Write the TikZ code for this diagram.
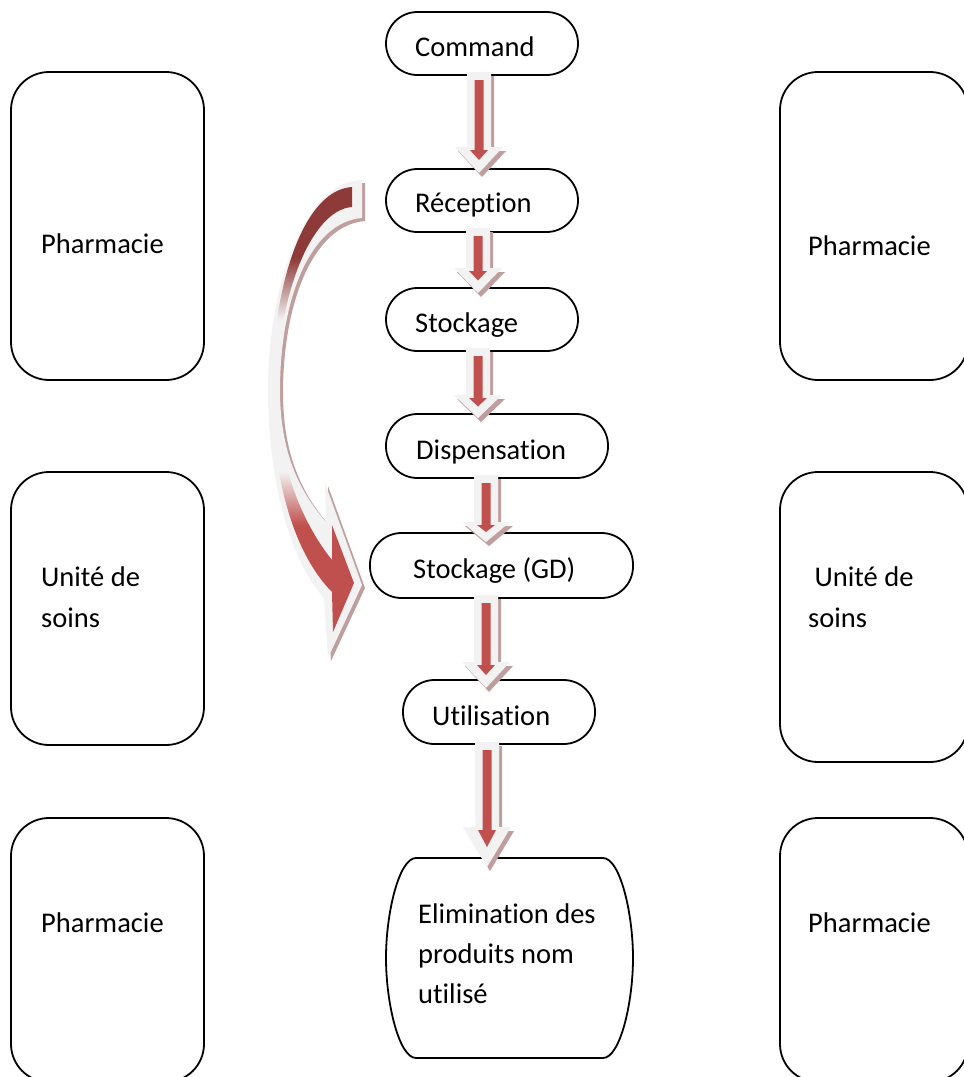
\documentclass[tikz,border=0pt]{standalone}
\usepackage{fontspec}
\setmainfont{Carlito}[Ligatures={NoCommon,NoRequired,NoContextual}]
\definecolor{arrgray}{HTML}{F2F2F2}
\definecolor{arrred}{HTML}{C0504D}
\definecolor{arrdark}{HTML}{8E3A39}
\definecolor{arrshadow}{HTML}{BF9E9E}
\pgfdeclareverticalshading{curvshade}{100bp}{color(0bp)=(arrred); color(37bp)=(arrred); color(43bp)=(arrgray); color(60bp)=(arrgray); color(67bp)=(arrdark); color(100bp)=(arrdark)}
\newcommand\bArrow[4]{%
  \fill[arrshadow,shift={(3,4)}] ({#1-12},{#2}) -- ({#1+12},{#2}) -- ({#1+12},{#3}) -- ({#1+24},{#3}) -- ({#1},{#4}) -- ({#1-24},{#3}) -- ({#1-12},{#3}) -- cycle;
  \fill[arrgray] ({#1-12},{#2}) -- ({#1+12},{#2}) -- ({#1+12},{#3}) -- ({#1+24},{#3}) -- ({#1},{#4}) -- ({#1-24},{#3}) -- ({#1-12},{#3}) -- cycle;
  \fill[arrred] ({#1-4.5},{#2+8}) -- ({#1+4.5},{#2+8}) -- ({#1+4.5},{#3+3}) -- ({#1+9},{#3+3}) -- ({#1},{(#3+#4)/2}) -- ({#1-9},{#3+3}) -- ({#1-4.5},{#3+3}) -- cycle;
}
\tikzset{
  box/.style={draw, line width=1.8pt, rounded corners=38pt, inner sep=0pt},
  pill/.style={draw, line width=1.8pt, rounded corners=31.5pt, inner sep=0pt, minimum height=63pt},
  txt/.style={anchor=base west, inner sep=0pt, font=\fontsize{28.5}{35}\selectfont},
}
\begin{document}
\begin{tikzpicture}[x=1pt,y=-1pt]
\useasboundingbox (0,0) rectangle (964,1077);
\clip (0,0) rectangle (964,1077);
\fill[white] (0,0) rectangle (964,1077);
% side boxes
\node[box, minimum width=193pt, minimum height=308pt] (L1) at (107.5,226) {};
\node[box, minimum width=193pt, minimum height=273pt] (L2) at (107.5,608.5) {};
\node[box, minimum width=193pt, minimum height=264pt] (L3) at (107.5,950) {};
\node[box, minimum width=188pt, minimum height=308pt] (R1) at (874,226) {};
\node[box, minimum width=188pt, minimum height=290pt] (R2) at (874,617) {};
\node[box, minimum width=188pt, minimum height=264pt] (R3) at (874,950) {};
\node[txt] (tL1) at (41,253) {Pharmacie};
\node[txt] (tL2a) at (41,586) {Unité de};
\node[txt] (tL2b) at (41,627) {soins};
\node[txt] (tL3) at (41,932) {Pharmacie};
\node[txt] (tR1) at (808,255) {Pharmacie};
\node[txt] (tR2a) at (808,586) {\ Unité de};
\node[txt] (tR2b) at (808,627) {soins};
\node[txt] (tR3) at (808,932) {Pharmacie};
% central pills
\node[pill, minimum width=192pt] (cmd) at (482,43.5) {};
\node[pill, minimum width=192pt] (rec) at (482,200.5) {};
\node[pill, minimum width=192pt] (sto) at (482,319.5) {};
\node[pill, minimum width=222pt, minimum height=64pt] (dis) at (497,446) {};
\node[pill, minimum width=263pt, minimum height=65pt] (gd) at (501.5,565.5) {};
\node[pill, minimum width=192pt, minimum height=64pt] (uti) at (499,712) {};
\coordinate (eli) at (509.5,958);
\draw[line width=1.8pt] (416,858) -- (603,858) .. controls (620,858) and (633,913) .. (633,958) .. controls (633,1003) and (620,1058) .. (603,1058) -- (416,1058) .. controls (399,1058) and (386,1003) .. (386,958) .. controls (386,913) and (399,858) .. (416,858) -- cycle;
\node[txt] (tcmd) at (415,56) {Command};
\node[txt] (trec) at (415,212) {Réception};
\node[txt] (tsto) at (415,332) {Stockage};
\node[txt] (tdis) at (416,459) {Dispensation};
\node[txt] (tgd) at (413,578) {Stockage (GD)};
\node[txt] (tuti) at (432,725) {Utilisation};
\node[txt] (teli1) at (418,923) {Elimination des};
\node[txt] (teli2) at (418,963) {produits nom};
\node[txt] (teli3) at (418,1003) {utilisé};
% straight block arrows
\bArrow{479}{72}{147}{173}
\bArrow{478}{228}{268}{293}
\bArrow{478}{348}{395}{418}
\bArrow{486}{475}{522}{542}
\bArrow{486}{595}{662}{688}
\bArrow{487}{742}{827}{867}
% curved arrow
\fill[arrshadow, shift={(3,3)}] (362,180) .. controls (305,181) and (268,285) .. (268,390) .. controls (268,480) and (290,560) .. (324,598) -- (328,658) -- (362,585) -- (325,483) -- (326,522) .. controls (298,490) and (280,450) .. (280,390) .. controls (280,300) and (310,222) .. (362,218) -- cycle;
\fill[arrgray] (362,180) .. controls (305,181) and (268,285) .. (268,390) .. controls (268,480) and (290,560) .. (324,598) -- (328,658) -- (362,585) -- (325,483) -- (326,522) .. controls (298,490) and (280,450) .. (280,390) .. controls (280,300) and (310,222) .. (362,218) -- cycle;
\shade[shading=curvshade] (352,187) .. controls (302,190) and (272,290) .. (272,390) .. controls (272,480) and (295,555) .. (332,592) -- (333,632) -- (354,583) -- (332,525) -- (332,560) .. controls (300,520) and (277,460) .. (277,390) .. controls (277,300) and (310,210) .. (352,207) -- cycle;
\end{tikzpicture}
\end{document}
